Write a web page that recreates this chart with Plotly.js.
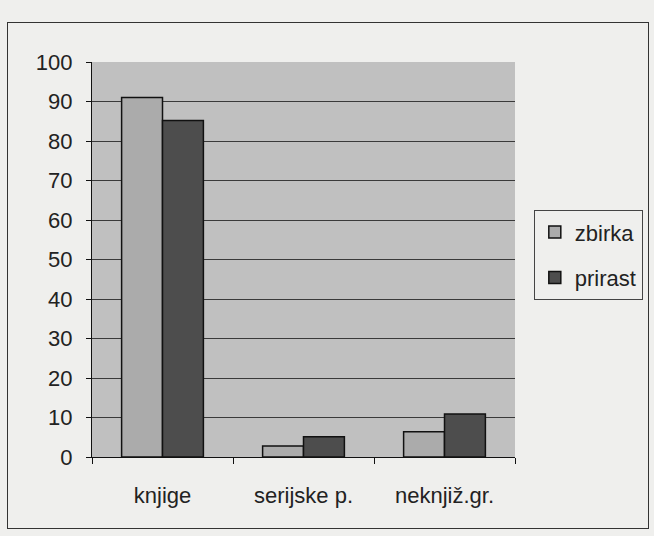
<!DOCTYPE html>
<html><head><meta charset="utf-8">
<script src="https://cdn.plot.ly/plotly-3.0.1.min.js"></script>
<style>
html,body{margin:0;padding:0;background:#efefed;}
#wrap{position:relative;width:654px;height:536px;}
#chart{position:absolute;left:0;top:0;width:654px;height:536px;}
#frame{position:absolute;left:7px;top:22px;width:640px;height:505px;border:1.5px solid #333;pointer-events:none;}
</style>
</head><body>
<div id="wrap"><div id="chart"></div><div id="frame"></div></div>
<script>
const categories = ['knjige', 'serijske p.', 'neknjiž.gr.'];
const zbirka = [91, 2.8, 6.4];
const prirast = [85.2, 5.1, 10.9];
const seriesNames = ['zbirka', 'prirast'];

const data = [
  {type:'bar', name:seriesNames[0], x:categories, y:zbirka, legendgroup:'a',
   marker:{color:'#ababab', line:{color:'#111', width:1.5}}},
  {type:'bar', name:seriesNames[1], x:categories, y:prirast, legendgroup:'b',
   marker:{color:'#4d4d4d', line:{color:'#111', width:1.5}}}
];
const layout = {
  width:654, height:536,
  margin:{l:92, r:138, t:62, b:79},
  paper_bgcolor:'rgba(0,0,0,0)',
  plot_bgcolor:'#c0c0c0',
  font:{family:'Liberation Sans, Arial, sans-serif', color:'#222', size:22},
  barmode:'group', bargap:0.42, bargroupgap:0,
  showlegend:true,
  legend:{x:1.042, y:0.625, xanchor:'left', yanchor:'top',
    bordercolor:'#444', borderwidth:1, bgcolor:'rgba(0,0,0,0)',
    font:{size:22}, itemwidth:30, tracegroupgap:14},
  xaxis:{showline:true, linecolor:'#111', linewidth:1.2, ticks:'outside', tickson:'boundaries',
    ticklen:6, tickcolor:'#111', tickfont:{size:22}, ticklabelstandoff:18, showgrid:false},
  yaxis:{range:[0,100], dtick:10, showline:true, linecolor:'#111', linewidth:1.2,
    ticks:'outside', ticklen:5, tickcolor:'#111', gridcolor:'#3a3a3a', gridwidth:1,
    tickfont:{size:22}, ticklabelstandoff:9, zeroline:false}
};
Plotly.newPlot('chart', data, layout, {displayModeBar:false});
</script>
</body></html>
